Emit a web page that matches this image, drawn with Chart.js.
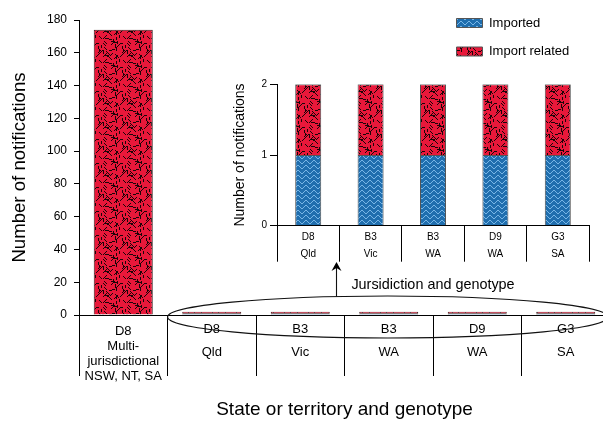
<!DOCTYPE html>
<html><head><meta charset="utf-8">
<script src="https://cdn.jsdelivr.net/npm/chart.js@4/dist/chart.umd.min.js"></script>
<style>
html,body{margin:0;padding:0;background:#fff;}
#wrap{position:relative;width:603px;height:423px;overflow:hidden;background:#fff;}
canvas{position:absolute;}
#main{left:0;top:0;}
#inset{left:230px;top:60px;}
#leg{left:441px;top:1px;}
</style></head><body>
<div id="wrap">
<canvas id="main" width="610" height="423"></canvas>
<canvas id="inset" width="370" height="240"></canvas>
<canvas id="leg" width="340" height="84"></canvas>
</div>
<script>
// ---- data ----
const genotypes = ["D8", "D8", "B3", "B3", "D9", "G3"];
const jurisdictions = [["Multi-", "jurisdictional", "NSW, NT, SA"], ["Qld"], ["Vic"], ["WA"], ["WA"], ["SA"]];
const importedMain = [0, 1, 1, 1, 1, 1];
const importRelatedMain = [174, 1, 1, 1, 1, 1];

const insetGenotypes = ["D8", "B3", "B3", "D9", "G3"];
const insetJurisdictions = ["Qld", "Vic", "WA", "WA", "SA"];
const importedInset = [1, 1, 1, 1, 1];
const importRelatedInset = [1, 1, 1, 1, 1];

const seriesNames = ["Imported", "Import related"];
const mainYTicks = {min: 0, max: 180, step: 20};
const insetYTicks = {min: 0, max: 2, step: 1};

// ---- labels ----
const mainLabels = genotypes.map((g, i) => i === 0 ? [g, ...jurisdictions[i]] : [g, "", jurisdictions[i][0]]);
const insetLabels = insetGenotypes.map((g, i) => [g, insetJurisdictions[i]]);

Chart.defaults.font.family = "'Liberation Sans', Arial, sans-serif";
Chart.defaults.color = '#000';

// ---- fill textures ----
function makeRed() {
  const N = 24, C = 4;
  const c = document.createElement('canvas'); c.width = N; c.height = N;
  const g = c.getContext('2d');
  g.fillStyle = '#e8183a'; g.fillRect(0, 0, N, N);
  g.fillStyle = '#1a0508';
  let s = 98765;
  const nxt = () => { s = (s * 16807) % 2147483647; return s / 2147483647; };
  const dirs = [[1, 0], [0, 1], [1, 1], [1, -1]];
  for (let cy = 0; cy < N; cy += C) {
    for (let cx = 0; cx < N; cx += C) {
      const x0 = cx + Math.floor(nxt() * C), y0 = cy + Math.floor(nxt() * C);
      const d = dirs[Math.floor(nxt() * 4)];
      const len = nxt() < 0.3 ? 4 : 3;
      for (let k = 0; k < len; k++) g.fillRect((x0 + d[0] * k + N) % N, (y0 + d[1] * k + N) % N, 1, 1);
    }
  }
  return g.createPattern(c, 'repeat');
}
function makeBlue() {
  const c = document.createElement('canvas'); c.width = 8; c.height = 5;
  const g = c.getContext('2d');
  g.fillStyle = '#1f6eae'; g.fillRect(0, 0, 8, 5);
  g.fillStyle = '#78b6e6';
  const ys = [3, 2, 1, 0, 0, 1, 2, 3];
  ys.forEach((y, x) => g.fillRect(x, y, 1, 1));
  return g.createPattern(c, 'repeat');
}
const bluePat = makeBlue();
const redPat = makeRed();

// ---- annotation (ellipse + arrow) ----
const annot = {
  id: 'annot',
  afterDraw(chart) {
    const x = chart.scales.x, y = chart.scales.y, ctx = chart.ctx;
    const cw = x.getPixelForValue(1) - x.getPixelForValue(0);
    const left = x.getPixelForValue(1) - cw / 2;
    const right = x.getPixelForValue(5) + cw / 2 - 2;
    const cy = y.getPixelForValue(0) + 2;
    const rx = (right - left) / 2, cx = (left + right) / 2, ry = 21;
    ctx.save();
    ctx.strokeStyle = '#111'; ctx.lineWidth = 1.1;
    ctx.beginPath(); ctx.ellipse(cx, cy, rx, ry, 0, 0, 2 * Math.PI); ctx.stroke();
    const ax = Math.round(left + 168) + 0.5;
    const t = (ax - cx) / rx;
    const ay0 = cy - ry * Math.sqrt(1 - t * t);
    ctx.beginPath(); ctx.moveTo(ax, ay0); ctx.lineTo(ax, 268); ctx.stroke();
    ctx.fillStyle = '#000';
    ctx.beginPath();
    ctx.moveTo(ax, 262); ctx.lineTo(ax - 5, 271); ctx.lineTo(ax, 268); ctx.lineTo(ax + 5, 271); ctx.closePath();
    ctx.fill();
    ctx.restore();
  }
};

// ---- main chart ----
new Chart(document.getElementById('main'), {
  type: 'bar',
  data: {
    labels: mainLabels,
    datasets: [
      {label: seriesNames[0], data: importedMain, backgroundColor: bluePat, borderColor: '#3a1a1a', borderWidth: 1, barPercentage: 0.667, categoryPercentage: 1},
      {label: seriesNames[1], data: importRelatedMain, backgroundColor: redPat, borderColor: '#3a1a1a', borderWidth: 1, barPercentage: 0.667, categoryPercentage: 1}
    ]
  },
  options: {
    responsive: false, animation: false, events: [],
    layout: {padding: {top: 20, left: 0, right: 0, bottom: 0}},
    plugins: {legend: {display: false}, tooltip: {enabled: false}},
    scales: {
      x: {
        stacked: true, offset: true,
        grid: {offset: true, drawOnChartArea: false, drawTicks: true, tickLength: 61, color: '#000', lineWidth: 1},
        border: {display: true, color: '#000', width: 1},
        ticks: {autoSkip: false, maxRotation: 0, minRotation: 0, padding: -52.5, color: '#000',
          font: (c) => c.index === 0 ? {size: 13, lineHeight: 15 / 13} : {size: 13, lineHeight: 11.5 / 13}},
        title: {display: true, text: 'State or territory and genotype', font: {size: 19}, color: '#000', padding: {top: 0, bottom: 1.6}},
        afterFit: (s) => { s.height = 108; }
      },
      y: {
        stacked: true, min: mainYTicks.min, max: mainYTicks.max,
        ticks: {stepSize: mainYTicks.step, color: '#000', font: {size: 12}, padding: 7},
        grid: {drawOnChartArea: false, drawTicks: true, tickLength: 5, color: '#000'},
        border: {display: true, color: '#000', width: 1},
        title: {display: true, text: 'Number of notifications', font: {size: 18.6}, color: '#000', padding: {top: 8.3, bottom: 0}},
        afterFit: (s) => { s.width = 79; }
      }
    }
  },
  plugins: [annot]
});

// ---- inset chart ----
new Chart(document.getElementById('inset'), {
  type: 'bar',
  data: {
    labels: insetLabels,
    datasets: [
      {label: seriesNames[0], data: importedInset, backgroundColor: bluePat, borderColor: '#555', borderWidth: 1, barPercentage: 0.417, categoryPercentage: 1},
      {label: seriesNames[1], data: importRelatedInset, backgroundColor: redPat, borderColor: '#555', borderWidth: 1, barPercentage: 0.417, categoryPercentage: 1}
    ]
  },
  options: {
    responsive: false, animation: false, events: [],
    layout: {padding: {top: 24.3, right: 11, left: 0, bottom: 0}},
    plugins: {legend: {display: false}, tooltip: {enabled: false}},
    scales: {
      x: {
        stacked: true, offset: true,
        grid: {offset: true, drawOnChartArea: false, drawTicks: true, tickLength: 36, color: '#000'},
        border: {display: true, color: '#000', width: 1},
        ticks: {autoSkip: false, maxRotation: 0, minRotation: 0, padding: -33, color: '#000', font: {size: 10, lineHeight: 1.73}},
        title: {display: true, text: 'Jursidiction and genotype', font: {size: 14.4}, color: '#000', padding: {top: 0, bottom: 6.5}},
        afterFit: (s) => { s.height = 74.3; }
      },
      y: {
        stacked: true, min: insetYTicks.min, max: insetYTicks.max,
        ticks: {stepSize: insetYTicks.step, color: '#000', font: {size: 10}, padding: 3},
        grid: {drawOnChartArea: false, drawTicks: true, tickLength: 7, color: '#000'},
        border: {display: true, color: '#000', width: 1},
        title: {display: true, text: 'Number of notifications', font: {size: 14}, color: '#000', padding: {top: 1.7, bottom: 0}},
        afterFit: (s) => { s.width = 47; }
      }
    }
  }
});

// ---- legend ----
new Chart(document.getElementById('leg'), {
  type: 'bar',
  data: {
    labels: [],
    datasets: [
      {label: seriesNames[0], data: [], backgroundColor: bluePat, borderColor: '#555', borderWidth: 1},
      {label: seriesNames[1], data: [], backgroundColor: redPat, borderColor: '#555', borderWidth: 1}
    ]
  },
  options: {
    responsive: false, animation: false, events: [],
    scales: {x: {display: false}, y: {display: false}},
    plugins: {
      tooltip: {enabled: false},
      legend: {display: true, position: 'left', align: 'start',
        labels: {boxWidth: 26, boxHeight: 9, padding: 15.5, font: {size: 13}, color: '#000'}}
    }
  }
});
</script>
</body></html>
